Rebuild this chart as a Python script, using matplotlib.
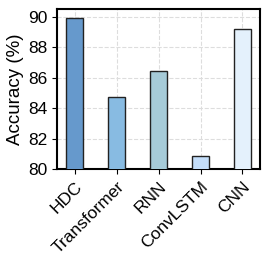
import matplotlib.pyplot as plt
import numpy as np

plt.rcParams['font.family'] = ['Liberation Sans', 'DejaVu Sans']

# data
models = ['HDC', 'Transformer', 'RNN', 'ConvLSTM', 'CNN']
accuracy = [89.9, 84.7, 86.45, 80.85, 89.2]
colors = ['#6699cc', '#88bbe2', '#a6cbd8', '#c4defa', '#e4f1fc']

fig, ax = plt.subplots(figsize=(2.7, 2.67), dpi=100)
x = np.arange(len(models))
ax.bar(x, accuracy, width=0.4, color=colors, edgecolor='#222222', linewidth=1.0, zorder=3)

ax.set_ylim(80, 90.5)
ax.set_yticks([80, 82, 84, 86, 88, 90])
ax.set_xticks(x)
ax.set_xticklabels(models, rotation=45, ha='right', rotation_mode='anchor', fontsize=12.5)
ax.tick_params(axis='y', labelsize=12.5)
ax.set_ylabel('Accuracy (%)', fontsize=13.5, labelpad=3)
ax.grid(True, linestyle='--', color='#dddddd', linewidth=0.8, zorder=0)
for s in ax.spines.values():
    s.set_linewidth(1.5)

fig.subplots_adjust(left=0.212, right=0.963, top=0.966, bottom=0.367)
fig.savefig('out.png')
